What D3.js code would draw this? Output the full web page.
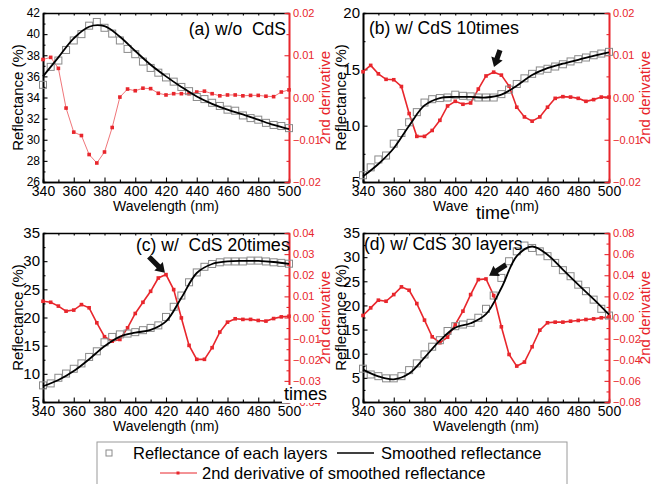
<!DOCTYPE html>
<html>
<head>
<meta charset="utf-8">
<script src="https://cdn.jsdelivr.net/npm/d3@7"></script>
<style>
body { margin: 0; background: #fff; }
svg { font-family: "Liberation Sans", Arial, sans-serif; }
</style>
</head>
<body>
<div id="chart"></div>
<script>
// wavelengths (nm)
const WAVE = [340,345,350,355,360,365,370,375,380,385,390,395,400,405,410,415,420,425,430,435,440,445,450,455,460,465,470,475,480,485,490,495,500];
const SMOOTH_WAVE = [340,350,360,370,380,390,400,410,420,430,440,450,460,470,480,490,500];

// (a) w/o CdS
const REFL_A = [35.2,36.9,37.5,38.5,39.4,40.0,40.8,41.15,40.6,40.05,39.4,38.6,38.1,37.4,36.8,36.35,35.9,35.5,35.0,34.6,34.05,33.85,33.5,33.2,32.85,32.75,32.3,32.05,31.9,31.6,31.4,31.3,31.1];
const SMOOTH_A = [36.0,37.8,39.6,40.7,40.75,39.75,38.4,37.1,36.0,35.0,34.1,33.4,32.85,32.4,31.9,31.4,31.0];
const DERIV_A = [0.0090,0.0095,0.0069,-0.0025,-0.0082,-0.0090,-0.0135,-0.0155,-0.0129,-0.0071,0.0001,0.0020,0.0016,0.0022,0.0021,0.0010,0.0006,0.0009,0.0009,0.0009,0.0013,0.0015,0.0009,0.0004,0.0006,0.0006,0.0004,0.0005,0.0005,0.0003,0.0002,0.0013,0.0018];

// (b) w/ CdS 10 times
const REFL_B = [5.6,6.3,7.0,7.35,8.4,9.35,10.3,11.2,12.05,12.35,12.45,12.5,12.75,12.65,12.6,12.5,12.5,12.5,12.8,13.2,13.7,14.2,14.6,14.9,15.05,15.25,15.45,15.7,15.9,16.05,16.25,16.4,16.55];
const SMOOTH_B = [5.5,6.6,8.0,10.0,11.8,12.45,12.55,12.55,12.5,12.75,13.55,14.5,15.1,15.5,15.85,16.2,16.5];
const DERIV_B = [0.0061,0.0076,0.0056,0.0043,0.0042,0.0026,-0.0038,-0.0092,-0.0092,-0.0078,-0.0054,-0.0020,-0.0009,-0.0016,-0.0013,0.0020,0.0051,0.0060,0.0053,0.0027,-0.0023,-0.0046,-0.0056,-0.0046,-0.0023,-0.0002,0.0002,0.0001,-0.0002,-0.0009,-0.0005,0.0001,0.0001];

// (c) w/ CdS 20 times
const REFL_C = [7.95,8.3,9.3,10.05,10.9,11.85,13.0,14.0,15.6,16.55,17.0,17.15,17.4,17.75,18.15,18.6,20.1,21.9,23.9,26.25,28.0,29.0,29.5,29.8,29.95,29.95,29.95,30.1,30.1,29.95,29.8,29.7,29.55];
const SMOOTH_C = [7.8,8.9,10.5,12.6,14.9,16.6,17.3,17.8,19.3,23.5,27.9,29.5,29.95,30.05,30.05,29.85,29.5];
const DERIV_C = [0.0077,0.0072,0.0054,0.0030,0.0035,0.0061,0.0046,-0.0025,-0.0091,-0.0112,-0.0104,-0.0049,0.0019,0.0072,0.0124,0.0187,0.0203,0.0132,-0.0002,-0.0132,-0.0198,-0.0198,-0.0143,-0.0069,-0.0022,-0.0006,-0.0009,-0.0009,-0.0014,-0.0017,-0.0005,0.0003,0.0006];

// (d) w/ CdS 30 layers
const REFL_D = [6.9,5.7,5.35,4.9,4.9,5.35,6.6,8.0,9.85,11.45,12.8,14.7,15.7,16.05,16.4,17.45,19.3,22.05,25.7,29.15,31.2,32.4,31.9,31.2,30.2,28.8,27.3,26.05,24.3,22.95,21.2,19.3,17.9];
const SMOOTH_D = [6.7,5.3,4.7,5.9,9.2,12.7,15.4,16.3,18.2,23.6,30.2,32.2,30.5,27.4,24.3,21.3,18.1];
const DERIV_D = [0.0019,0.0091,0.0164,0.0154,0.0217,0.0290,0.0258,0.0132,-0.0025,-0.0183,-0.0239,-0.0186,-0.0066,0.0060,0.0217,0.0359,0.0365,0.0208,-0.0088,-0.0350,-0.0460,-0.0422,-0.0277,-0.0120,-0.0050,-0.0044,-0.0044,-0.0035,-0.0028,-0.0019,-0.0013,-0.0003,0.0006];

// ticks
const X_TICKS = [340,360,380,400,420,440,460,480,500];
const X_MINOR = [350,370,390,410,430,450,470,490];
const Y_TICKS_A = [26,28,30,32,34,36,38,40,42];
const Y_TICKS_B = [5,10,15,20];
const Y_TICKS_C = [5,10,15,20,25,30,35];
const Y_TICKS_D = [0,5,10,15,20,25,30,35];
const D_TICKS_AB = [-0.02,-0.01,0.00,0.01,0.02];
const D_TICKS_C = [-0.04,-0.03,-0.02,-0.01,0.00,0.01,0.02,0.03,0.04];
const D_TICKS_D = [-0.08,-0.06,-0.04,-0.02,0.00,0.02,0.04,0.06,0.08];

const RED = "#e8262c";
const PW = 246, PH = 169;

const PANELS = [
    {left: 43, top: 13, refl: REFL_A, smooth: SMOOTH_A, deriv: DERIV_A,
     yTicks: Y_TICKS_A, yFont: 12, dTicks: D_TICKS_AB, dLineW: 1, dColor: "#f0767a",
     yLab: 20, title: "(a) w/o  CdS", tAnchor: "end", tx: 243, ty: 22},
    {left: 363, top: 13, refl: REFL_B, smooth: SMOOTH_B, deriv: DERIV_B,
     yTicks: Y_TICKS_B, yFont: 15, dTicks: D_TICKS_AB, dLineW: 1.6, dColor: RED,
     yLab: 17, title: "(b) w/ CdS 10", tAnchor: "start", tx: 6, ty: 21,
     arrow: {wl: 425.2, d: 0.0072, dx: 6, dy: -17}},
    {left: 43, top: 233, refl: REFL_C, smooth: SMOOTH_C, deriv: DERIV_C,
     yTicks: Y_TICKS_C, yFont: 15, dTicks: D_TICKS_C, dLineW: 1.6, dColor: RED,
     yLab: 20, title: "(c) w/  CdS 20", tAnchor: "start", tx: 93, ty: 18,
     arrow: {wl: 419.3, d: 0.0212, dx: -16, dy: -16}},
    {left: 363, top: 233, refl: REFL_D, smooth: SMOOTH_D, deriv: DERIV_D,
     yTicks: Y_TICKS_D, yFont: 15, dTicks: D_TICKS_D, dLineW: 1.6, dColor: RED,
     yLab: 17, title: "(d) w/ CdS 30 layers", tAnchor: "start", tx: 1, ty: 17,
     arrow: {wl: 422, d: 0.0395, dx: 17, dy: -11}},
];

const svg = d3.select("#chart").append("svg")
    .attr("width", 652)
    .attr("height", 484);

var midpoints = function(t){
    return t.slice(1).map((v,i) => (v + t[i]) / 2);
};

var styleAxis = function(sel, color, size){
    sel.attr("font-family", null).attr("font-size", size);
    sel.select(".domain").attr("stroke", color).attr("stroke-width", 1.6);
    sel.selectAll(".tick line").attr("stroke", color).attr("stroke-width", 1.1);
    sel.selectAll(".tick text").attr("fill", color);
};

var drawArrow = function(g, x1, y1, x2, y2){
    // thick block arrow from tail (x1,y1) to tip (x2,y2)
    const a = Math.atan2(y2 - y1, x2 - x1);
    const len = Math.hypot(x2 - x1, y2 - y1);
    const head = 9, hw = 6, sw = 2.6;
    const pts = [[0,-sw],[len-head,-sw],[len-head,-hw],[len,0],[len-head,hw],[len-head,sw],[0,sw]]
        .map(p => [x1 + p[0]*Math.cos(a) - p[1]*Math.sin(a), y1 + p[0]*Math.sin(a) + p[1]*Math.cos(a)]);
    g.append("polygon")
     .attr("points", pts.map(p => p.join(",")).join(" "))
     .attr("fill", "#111");
};

var drawPanel = function(p){
    const g = svg.append("g").attr("transform", "translate("+p.left+","+p.top+")");
    const x = d3.scaleLinear().domain([340, 500]).range([0, PW]);
    const y = d3.scaleLinear().domain(d3.extent(p.yTicks)).range([PH, 0]);
    const yd = d3.scaleLinear().domain(d3.extent(p.dTicks)).range([PH, 0]);

    // bottom axis
    g.append("g").attr("transform", "translate(0,"+PH+")")
     .call(d3.axisBottom(x).tickValues(X_MINOR).tickSize(-2.5).tickFormat(""))
     .call(s => styleAxis(s, "#000", 14));
    g.append("g").attr("transform", "translate(0,"+PH+")")
     .call(d3.axisBottom(x).tickValues(X_TICKS).tickSize(-4.5).tickSizeOuter(0).tickPadding(4))
     .call(s => styleAxis(s, "#000", 14));
    // top axis
    g.append("g")
     .call(d3.axisTop(x).tickValues(X_TICKS.concat(X_MINOR)).tickSize(-2.5).tickSizeOuter(0).tickFormat(""))
     .call(s => styleAxis(s, "#000", 14));
    // left axis
    g.append("g")
     .call(d3.axisLeft(y).tickValues(midpoints(p.yTicks)).tickSize(-2.5).tickFormat(""))
     .call(s => styleAxis(s, "#000", p.yFont));
    g.append("g")
     .call(d3.axisLeft(y).tickValues(p.yTicks).tickSize(-4.5).tickSizeOuter(0).tickPadding(3))
     .call(s => styleAxis(s, "#000", p.yFont));
    // right axis (2nd derivative)
    g.append("g").attr("transform", "translate("+PW+",0)")
     .call(d3.axisRight(yd).tickValues(midpoints(p.dTicks)).tickSize(-2.5).tickFormat(""))
     .call(s => styleAxis(s, RED, 11));
    g.append("g").attr("transform", "translate("+PW+",0)")
     .call(d3.axisRight(yd).tickValues(p.dTicks).tickSize(-4.5).tickSizeOuter(0).tickPadding(4).tickFormat(d3.format(".2f")))
     .call(s => styleAxis(s, RED, 11));

    // axis titles
    g.append("text")
     .attr("transform", "translate("+(-p.yLab)+","+(PH/2)+") rotate(-90)")
     .attr("text-anchor", "middle")
     .attr("font-size", 15)
     .text("Reflectance (%)");
    g.append("text")
     .attr("transform", "translate("+(PW+41)+","+(PH/2)+") rotate(-90)")
     .attr("text-anchor", "middle")
     .attr("font-size", 15)
     .attr("fill", RED)
     .text("2nd derivative");
    g.append("text")
     .attr("x", PW/2)
     .attr("y", PH + 29)
     .attr("text-anchor", "middle")
     .attr("font-size", 14)
     .text("Wavelength (nm)");

    // 2nd derivative series
    g.append("path")
     .datum(p.deriv)
     .attr("fill", "none")
     .attr("stroke", p.dColor)
     .attr("stroke-width", p.dLineW)
     .attr("d", d3.line().x((d,i) => x(WAVE[i])).y((d) => yd(d)));
    g.selectAll("rect.dpt")
     .data(p.deriv)
     .enter()
     .append("rect")
     .classed("dpt", true)
     .attr("x", (d,i) => x(WAVE[i]) - 1.8)
     .attr("y", (d) => yd(d) - 1.8)
     .attr("width", 3.6)
     .attr("height", 3.6)
     .attr("fill", RED);

    // measured reflectance
    g.selectAll("rect.refl")
     .data(p.refl)
     .enter()
     .append("rect")
     .classed("refl", true)
     .attr("x", (d,i) => x(WAVE[i]) - 3.5)
     .attr("y", (d) => y(d) - 3.5)
     .attr("width", 7)
     .attr("height", 7)
     .attr("fill", "none")
     .attr("stroke", "#8a8a8a")
     .attr("stroke-width", 1);

    // smoothed reflectance
    g.append("path")
     .datum(p.smooth)
     .attr("fill", "none")
     .attr("stroke", "#000")
     .attr("stroke-width", 1.8)
     .attr("d", d3.line().curve(d3.curveCatmullRom).x((d,i) => x(SMOOTH_WAVE[i])).y((d) => y(d)));

    // panel title
    const t = g.append("text")
     .attr("x", p.tx)
     .attr("y", p.ty)
     .attr("text-anchor", p.tAnchor)
     .attr("font-size", 17.5)
     .style("white-space", "pre")
     .text(p.title);
    if (p.title.indexOf("layers") < 0 && p.title.indexOf("w/o") < 0) {
        t.append("tspan").attr("font-size", 18).text("times");
    }

    if (p.arrow) {
        const tx = x(p.arrow.wl), ty = yd(p.arrow.d);
        drawArrow(g, tx + p.arrow.dx, ty + p.arrow.dy, tx, ty);
    }
    return g;
};

const gs = PANELS.map(drawPanel);

// pasted-over labels
gs[1].append("rect").attr("x", 106).attr("y", PH + 17).attr("width", 41).attr("height", 26).attr("fill", "#fff");
gs[1].append("text").attr("x", 113).attr("y", PH + 37).attr("font-size", 18).text("time");
gs[2].append("rect").attr("x", 239).attr("y", 152).attr("width", 48).attr("height", 18).attr("fill", "#fff");
gs[2].append("text").attr("x", 241).attr("y", 167).attr("font-size", 18).text("times");

// legend
const legend = svg.append("g");
legend.append("rect")
      .attr("x", 97).attr("y", 442)
      .attr("width", 470).attr("height", 60)
      .attr("fill", "#fff")
      .attr("stroke", "#9a9a9a")
      .attr("stroke-width", 1);
legend.append("rect")
      .attr("x", 106).attr("y", 450).attr("width", 6).attr("height", 6)
      .attr("fill", "none").attr("stroke", "#8a8a8a");
legend.append("text").attr("x", 133).attr("y", 459).attr("font-size", 16.5).text("Reflectance of each layers");
legend.append("line").attr("x1", 337).attr("x2", 374).attr("y1", 453).attr("y2", 453)
      .attr("stroke", "#000").attr("stroke-width", 1.5);
legend.append("text").attr("x", 381).attr("y", 459).attr("font-size", 16.5).text("Smoothed reflectance");
legend.append("line").attr("x1", 160).attr("x2", 197).attr("y1", 473).attr("y2", 473)
      .attr("stroke", RED).attr("stroke-width", 1);
legend.append("rect").attr("x", 176.5).attr("y", 471.5).attr("width", 3).attr("height", 3).attr("fill", RED);
legend.append("text").attr("x", 202).attr("y", 479).attr("font-size", 16.5).text("2nd derivative of smoothed reflectance");
</script>
</body>
</html>
